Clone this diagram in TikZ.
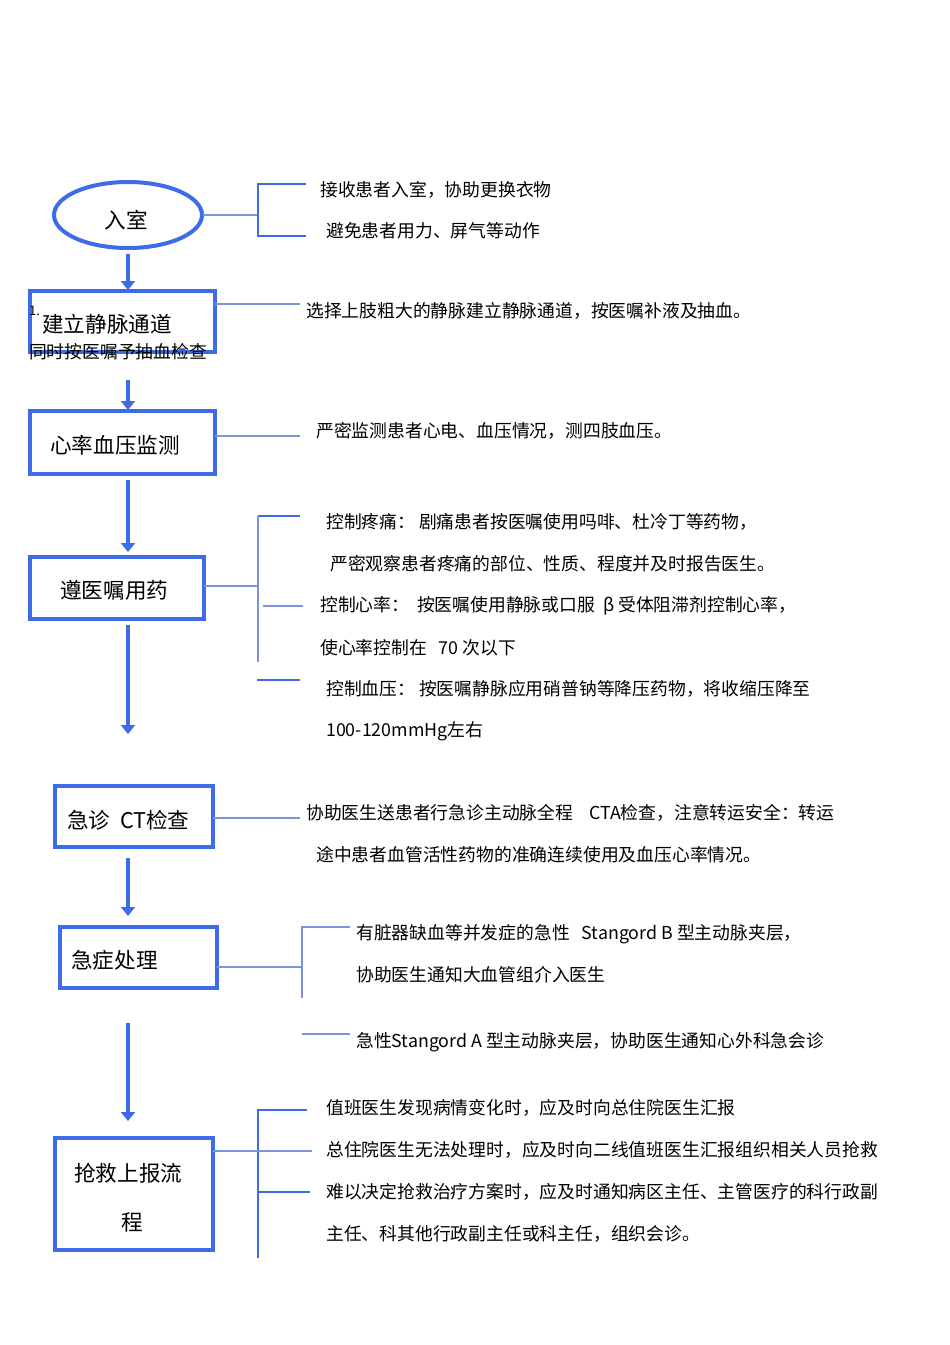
\documentclass[tikz,border=0pt]{standalone}
\usepackage{fontspec}
\setmainfont{Noto Sans CJK SC}
\usetikzlibrary{arrows.meta}
\definecolor{bl}{HTML}{3D6BEA}
\definecolor{tl}{HTML}{7A95D8}
\tikzset{
 boxn/.style={draw=bl,line width=4pt,minimum width=0pt},
 flow/.style={bl,line width=3.5pt,-{Triangle[length=9pt,width=14pt]}},
 thin/.style={tl,line width=1.2pt},
 thick/.style={bl,line width=2pt},
 txt/.style={anchor=west,inner sep=0pt,font=\fontsize{17.8}{19}\selectfont},
 btxt/.style={anchor=west,inner sep=0pt,font=\fontsize{21.6}{23}\selectfont}
}
\begin{document}
\begin{tikzpicture}[x=1pt,y=-1pt]
\useasboundingbox (0,0) rectangle (950,1345);
\draw[boxn] (128,215) ellipse (74 and 33);
\node[btxt,anchor=center] (e) at (126,220) {入室};
\coordinate (eR) at (203,215);
\draw[boxn] (30,291) rectangle (215,352);
\node[btxt] (b1) at (42,324) {建立静脉通道};
\node[txt,font=\fontsize{13}{14}\selectfont] (n1) at (29,311) {1.};
\node[txt] (b1b) at (29,352) {同时按医嘱予抽血检查};
\draw[boxn] (30,411) rectangle (215,474);
\node[btxt] (b2) at (50,445) {心率血压监测};
\draw[boxn] (30,557) rectangle (204,619);
\node[btxt] (b3) at (60,590) {遵医嘱用药};
\draw[boxn] (55,786) rectangle (213,847);
\node[btxt] (b4) at (67,820) {急诊 \ CT检查};
\draw[boxn] (60,927) rectangle (217,988);
\node[btxt] (b5) at (71,960) {急症处理};
\draw[boxn] (55,1138) rectangle (213,1250);
\node[btxt] (b6) at (74,1173) {抢救上报流};
\node[btxt] (b6b) at (121,1222) {程};
% arrows
\coordinate (a1) at (128,254); \coordinate (a1e) at (128,290);
\coordinate (a2) at (128,380); \coordinate (a2e) at (128,410);
\coordinate (a3) at (128,480); \coordinate (a3e) at (128,552);
\coordinate (a4) at (128,625); \coordinate (a4e) at (128,734);
\coordinate (a5) at (128,858); \coordinate (a5e) at (128,916);
\coordinate (a6) at (128,1023); \coordinate (a6e) at (128,1121);
\foreach \s/\e in {a1/a1e,a2/a2e,a3/a3e,a4/a4e,a5/a5e,a6/a6e} \draw[flow] (\s) -- (\e);
% bracket 1
\draw[thin] (eR) -- (258,215);
\draw[thick] (306,184) -- (258,184) -- (258,236) -- (306,236);
\node[txt] (t1) at (320,190) {接收患者入室，协助更换衣物};
\node[txt] (t2) at (326,231) {避免患者用力、屏气等动作};
\draw[thin] (215,304) -- (300,304);
\node[txt] (t3) at (306,311) {选择上肢粗大的静脉建立静脉通道，按医嘱补液及抽血。};
\draw[thin] (215,436) -- (300,436);
\node[txt] (t4) at (316,431) {严密监测患者心电、血压情况，测四肢血压。};
% bracket 3
\draw[thin] (204,586) -- (258,586);
\draw[thick] (300,516) -- (258,516);
\draw[thin] (258,516) -- (258,662);
\draw[thin] (263,606) -- (303,606);
\draw[thick] (257,680) -- (300,680);
\node[txt] (t5) at (326,522) {控制疼痛：\ 剧痛患者按医嘱使用吗啡、杜冷丁等药物，};
\node[txt] (t6) at (330,564) {严密观察患者疼痛的部位、性质、程度并及时报告医生。};
\node[txt] (t7) at (320,606) {控制心率：\ \ 按医嘱使用静脉或口服\ \ β 受体阻滞剂控制心率，};
\node[txt] (t8) at (320,648) {使心率控制在\ \ \ 70 次以下};
\node[txt] (t9) at (326,689) {控制血压：\ 按医嘱静脉应用硝普钠等降压药物，将收缩压降至};
\node[txt] (t10) at (326,731) {100-120mmHg左右};
\draw[thin] (213,818) -- (300,818);
\node[txt] (t11) at (306,813) {协助医生送患者行急诊主动脉全程\ \ \ \ CTA检查，注意转运安全：转运};
\node[txt] (t12) at (316,855) {途中患者血管活性药物的准确连续使用及血压心率情况。};
% bracket 5
\draw[thin] (217,967) -- (302,967);
\draw[thin] (350,927) -- (302,927) -- (302,998);
\draw[thin] (302,1034) -- (350,1034);
\node[txt] (t13) at (356,934) {有脏器缺血等并发症的急性\ \ \ Stangord B\ 型主动脉夹层，};
\node[txt] (t14) at (356,975) {协助医生通知大血管组介入医生};
\node[txt] (t15) at (356,1042) {急性Stangord A\ 型主动脉夹层，协助医生通知心外科急会诊};
% bracket 6
\draw[thick] (307,1110) -- (258,1110) -- (258,1258);
\draw[thick] (258,1192) -- (310,1192);
\draw[thin] (213,1151) -- (312,1151);
\node[txt] (t16) at (326,1108) {值班医生发现病情变化时，应及时向总住院医生汇报};
\node[txt] (t17) at (326,1150) {总住院医生无法处理时，应及时向二线值班医生汇报组织相关人员抢救};
\node[txt] (t18) at (326,1192) {难以决定抢救治疗方案时，应及时通知病区主任、主管医疗的科行政副};
\node[txt] (t19) at (326,1234) {主任、科其他行政副主任或科主任，组织会诊。};
\end{tikzpicture}
\end{document}
